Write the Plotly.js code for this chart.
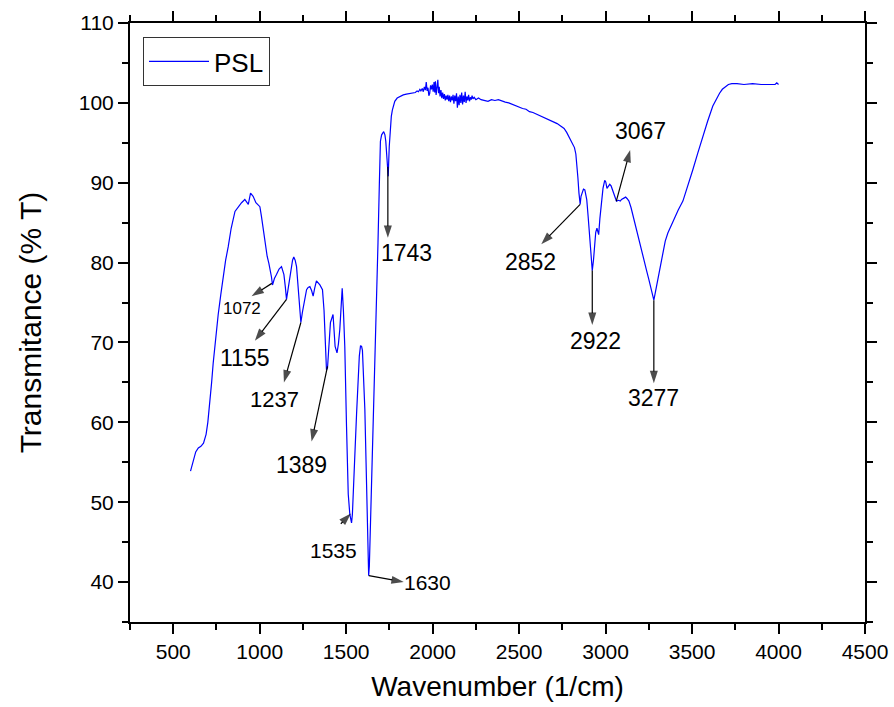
<!DOCTYPE html>
<html>
<head>
<meta charset="utf-8">
<script src="https://cdn.plot.ly/plotly-3.0.1.min.js"></script>
<style>html,body{margin:0;padding:0;background:#fff;} #chart{width:894px;height:707px;}</style>
</head>
<body>
<div id="chart"></div>
<script>
// Wavenumber (1/cm)
const wavenumber = [600,615,630,645,660,675,690,700,712,722,731,745,760,775,789,803,818,835,857,876,895,914,925,934,947,955,962,978,990,1001,1010,1020,1030,1043,1053,1062,1068,1074,1085,1097,1112,1126,1140,1148,1155,1165,1178,1190,1197,1205,1213,1226,1238,1247,1256,1271,1280,1290,1300,1309,1318,1328,1348,1363,1372,1380,1386,1392,1397,1409,1424,1430,1436,1447,1455,1463,1470,1477,1484,1492,1502,1512,1521,1527,1531,1536,1542,1549,1560,1569,1576,1583,1589,1594,1601,1608,1615,1621,1626,1630,1634,1640,1646,1655,1665,1675,1684,1692,1698,1705,1712,1717,1724,1729,1736,1743,1749,1755,1761,1767,1774,1781,1795,1810,1830,1848,1870,1887,1895,
1900,1910,1918,1926,1932,1940,1946,1952,1958,1963,1968,1973,1978,1983,1988,1993,1998,2003,2008,2012,2016,2020,2025,2030,2034,2038,2043,2048,2053,2058,2063,2068,2073,2078,2083,2088,2093,2098,2103,2108,2113,2118,2123,2128,2133,2138,2143,2148,2153,2158,2163,2168,2173,2178,2183,2188,2193,2198,2203,2208,2213,2218,2223,2228,2233,2240,2250,2265,2280,2300,2320,2340,2360,2380,2400,2420,2440,2460,2480,2500,2520,2540,2560,2580,2600,2620,2640,2660,2680,2700,2720,2740,2760,2775,2790,2805,2820,2828,2834,2840,2846,2853,2858,2864,2872,2880,2886,2891,2899,2907,2915,2923,2930,2936,2943,2950,2955,2960,2967,2975,2985,2995,3001,3008,3016,3024,3032,3040,3050,3063,3075,3085,3092,3104,3116,3125,3135,3147,3159,3178,3197,3217,3236,3250,3264,3272,3279,3288,3302,3316,3331,3345,3360,3380,3399,3420,3447,3475,3504,3533,3562,3590,3620,3640,3659,3675,3690,3710,3730,3760,3800,3850,3900,3950,3980,3990,4000];
// Transmitance (% T)
const transmitance = [53.9,55.0,56.3,56.8,57.0,57.4,58.5,60.0,62.5,65.0,67.4,70.5,73.5,76.0,78.3,80.3,82.0,84.3,86.4,87.0,87.5,87.9,87.6,87.3,88.7,88.5,88.3,87.5,87.3,87.0,85.8,84.1,82.5,80.8,79.9,79.1,78.2,77.2,78.0,78.5,79.2,79.5,78.5,77.0,75.4,76.8,78.7,80.3,80.7,80.3,79.5,75.8,72.5,73.8,75.0,76.6,76.9,77.0,76.5,75.8,76.8,77.7,77.2,76.6,74.0,69.5,66.6,66.8,68.3,72.5,73.5,71.5,69.5,68.7,69.8,71.6,74.5,76.8,74.0,69.5,59.5,51.0,48.5,47.8,47.4,48.5,51.0,55.3,61.0,65.8,68.3,69.6,69.5,69.0,65.5,61.6,55.0,49.1,43.5,40.8,42.0,46.5,51.2,59.5,67.9,75.5,82.5,90.0,95.2,96.0,96.3,96.4,96.0,95.2,93.0,90.8,94.5,97.1,98.3,99.1,99.8,100.2,100.6,100.8,101.0,101.1,101.2,101.3,101.3,
101.3,101.5,101.4,101.7,101.5,101.8,101.4,102.0,101.6,102.6,101.5,101.9,100.9,101.2,102.2,101.7,102.3,101.4,102.6,101.3,102.7,101.0,102.1,102.9,101.2,102.0,100.8,101.6,100.6,101.3,100.5,101.1,100.3,100.9,100.4,101.0,100.2,100.9,100.1,100.8,100.3,101.0,99.9,100.9,100.2,101.2,99.4,100.8,99.7,101.0,100.0,101.3,99.8,100.9,100.1,101.4,100.0,100.8,100.3,101.0,100.2,100.7,100.4,100.9,100.5,100.7,100.4,100.6,100.4,100.3,100.2,100.4,100.3,100.4,100.2,100.1,100.0,99.8,99.7,99.5,99.3,99.2,98.9,98.8,98.6,98.5,98.3,98.1,97.8,97.7,97.4,97.1,96.8,96.3,95.7,95.0,94.4,93.6,92.5,90.6,88.7,87.3,88.3,88.7,89.2,89.1,88.5,87.9,85.8,83.3,80.8,79.0,80.3,82.0,83.8,84.3,83.9,83.5,85.5,87.5,89.3,90.3,90.1,89.3,89.6,89.8,89.6,89.1,88.5,87.7,87.8,87.7,87.9,88.1,88.2,88.0,87.7,86.9,85.8,84.2,82.5,80.8,79.1,77.9,76.6,75.8,75.3,76.3,77.9,79.8,81.4,82.7,83.7,84.7,85.6,86.6,87.7,89.5,91.6,93.7,95.8,97.7,99.6,100.5,101.2,101.7,102.0,102.3,102.4,102.4,102.3,102.4,102.3,102.3,102.3,102.5,102.3];

const xTickVals = [500,1000,1500,2000,2500,3000,3500,4000,4500];
const yTickVals = [40,50,60,70,80,90,100,110];

// Peak labels
const peakLabels = ['1072','1155','1237','1389','1535','1630','1743','2852','2922','3067','3277'];

// arrow geometry: tail (ax,ay), head (x,y), label position (lx,ly), label size
const arrowCfg = [
  {x:953, y:75.8, ax:1070, ay:77.4, lx:895, ly:74.3, s:17},
  {x:972, y:70.2, ax:1155, ay:75.4, lx:914, ly:68.1, s:23},
  {x:1140, y:65.0, ax:1238, ay:72.5, lx:1088, ly:62.9, s:22},
  {x:1300, y:57.6, ax:1392, ay:67.0, lx:1244, ly:54.6, s:23},
  {x:1527, y:48.6, ax:1469, ay:47.3, lx:1428, ly:43.9, s:21},
  {x:1833, y:40.0, ax:1631, ay:40.8, lx:1971, ly:40.0, s:21},
  {x:1741, y:83.1, ax:1741, ay:92.0, lx:1850, ly:81.2, s:23},
  {x:2628, y:82.3, ax:2853, ay:87.3, lx:2567, ly:80.1, s:23},
  {x:2923, y:72.2, ax:2923, ay:79.0, lx:2942, ly:70.2, s:23},
  {x:3142, y:94.1, ax:3062, ay:87.7, lx:3202, ly:96.5, s:23},
  {x:3279, y:64.9, ax:3279, ay:75.3, lx:3277, ly:63.1, s:23}
];

const FONT = 'Arial, "Liberation Sans", sans-serif';
const annotations = [];
const arrowTraces = [];
arrowCfg.forEach((c, i) => {
  arrowTraces.push({x:[c.ax, c.x], y:[c.ay, c.y], type:'scatter', mode:'lines+markers', showlegend:false,
    hoverinfo:'skip', line:{color:'#000', width:1.2},
    marker:{symbol:'arrow', size:[0, 13], angleref:'previous', color:'#000', line:{width:0}}});
  annotations.push({x:c.lx, y:c.ly, xref:'x', yref:'y', text:peakLabels[i], showarrow:false,
    font:{family:FONT, size:c.s, color:'#000'}});
});

const trace = {x: wavenumber, y: transmitance, type:'scatter', mode:'lines', name:'PSL',
  line:{color:'#0000ff', width:1.2}};

const axisCommon = {
  showgrid:false, zeroline:false, showline:true, linecolor:'#000', linewidth:2,
  mirror:'allticks', ticks:'outside', ticklen:10, tickwidth:2, tickcolor:'#000',
  tickfont:{family:FONT, size:21, color:'#000'},
  minor:{ticks:'outside', ticklen:6, tickwidth:2, tickcolor:'#000'}
};

const layout = {
  width:894, height:707,
  margin:{l:130, r:29, t:23, b:85},
  paper_bgcolor:'#fff', plot_bgcolor:'#fff',
  showlegend:true,
  legend:{x:0.0177, y:0.9766, xanchor:'left', yanchor:'top', bordercolor:'#333', borderwidth:1,
    font:{family:FONT, size:26, color:'#000'}, bgcolor:'#fff', itemwidth:60},
  xaxis: Object.assign({}, axisCommon, {range:[250,4500], tickvals:xTickVals, minor:Object.assign({}, axisCommon.minor, {dtick:250, tick0:250}),
    title:{text:'Wavenumber (1/cm)', font:{family:FONT, size:28, color:'#000'}, standoff:14}}),
  yaxis: Object.assign({}, axisCommon, {range:[35,110], tickvals:yTickVals, minor:Object.assign({}, axisCommon.minor, {dtick:5, tick0:35}),
    title:{text:'Transmitance (% T)', font:{family:FONT, size:30, color:'#000'}, standoff:28}}),
  annotations: annotations
};

Plotly.newPlot('chart', [trace].concat(arrowTraces), layout, {displayModeBar:false, staticPlot:true});
</script>
</body>
</html>
